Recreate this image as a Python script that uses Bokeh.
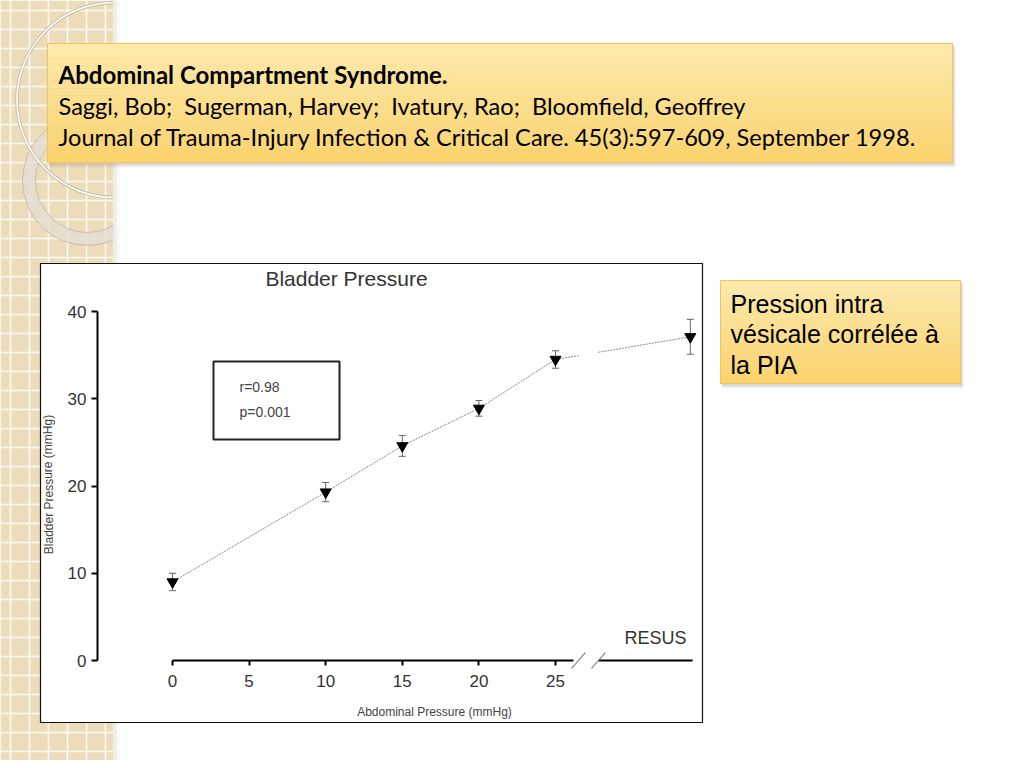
from bokeh.plotting import figure
from bokeh.models import Range1d, LinearAxis, FixedTicker, Label
from bokeh.embed import file_html
from bokeh.resources import INLINE

# ---------------- data ----------------
abd_pressure = [0, 10, 15, 20, 25]            # mmHg (x)
bladder_pressure = [9.0, 19.3, 24.6, 28.9, 34.5]  # mmHg (y)
bladder_err = [1.0, 1.1, 1.2, 0.9, 1.0]
resus_x = [33.8]
resus_bladder = [37.1]
resus_err = [2.0]
x_ticks = [0, 5, 10, 15, 20, 25]
y_ticks = [0, 10, 20, 30, 40]
stats_lines = ["r=0.98", "p=0.001"]
callout_lines = ["Pression intra", "vésicale corrélée à", "la PIA"]
ref_lines = ["Abdominal Compartment Syndrome.",
             "Saggi, Bob;\u00a0 Sugerman, Harvey;\u00a0 Ivatury, Rao;\u00a0 Bloomfield, Geoffrey",
             "Journal of Trauma-Injury Infection & Critical Care. 45(3):597-609, September 1998."]

# ---------------- page geometry (page pixels) ----------------
W, H = 1016, 760
PX0, PXS = 172.0, 15.32   # page x of abd=0, px per mmHg
PY0, PYS = 660.0, 8.725   # page y of bladder=0, px per mmHg
BREAK_LO, BREAK_HI, X_END = 26.5, 27.8, 33.95

p = figure(width=W, height=H, x_range=Range1d(0, W), y_range=Range1d(H, 0),
           x_axis_type=None, y_axis_type=None, toolbar_location=None,
           output_backend="svg", min_border=0)
p.outline_line_color = None
p.background_fill_color = "white"
p.border_fill_color = "white"

p.extra_x_ranges["abd"] = Range1d((0 - PX0) / PXS, (W - PX0) / PXS)
p.extra_y_ranges["bp"] = Range1d((PY0 - H) / PYS, PY0 / PYS)

# ---------------- slide decoration ----------------
p.quad(left=[0], right=[113], top=[0], bottom=[780], fill_color="#eddcb9", line_color=None,
       hatch_pattern="+", hatch_color="white", hatch_scale=19, hatch_weight=1.6, hatch_alpha=0.85)
# circles of the background strip
p.annulus(x=[87], y=[180], inner_radius=52, outer_radius=65, fill_color="#e4ddd2",
          fill_alpha=0.85, line_color="#c9bfae", line_width=1)
p.circle(x=[114], y=[99.5], radius=97.5, fill_color=None, line_color="#c8bca6", line_width=3.5)
p.circle(x=[114], y=[99.5], radius=97.5, fill_color=None, line_color="white", line_width=1.6)
# white page right of the strip, with shadow
p.quad(left=[113], right=[1030], top=[0], bottom=[780], fill_color="white", line_color=None)
p.quad(left=[113], right=[116], top=[0], bottom=[780], fill_color="#999999", fill_alpha=0.18, line_color=None)
p.quad(left=[116], right=[119], top=[0], bottom=[780], fill_color="#999999", fill_alpha=0.07, line_color=None)


def yellow_box(l, r, t, b):
    p.quad(left=[l + 2], right=[r + 3], top=[t + 3], bottom=[b + 5], fill_color="#888888",
           fill_alpha=0.12, line_color=None)
    p.quad(left=[l + 1], right=[r + 2], top=[t + 2], bottom=[b + 3], fill_color="#777777",
           fill_alpha=0.2, line_color=None)
    n = 16
    c0 = (253, 234, 172)
    c1 = (252, 211, 108)
    for i in range(n):
        f = (i + 0.5) / n
        c = tuple(int(round(c0[k] + (c1[k] - c0[k]) * f)) for k in range(3))
        p.quad(left=[l], right=[r], top=[t + (b - t) * i / n], bottom=[t + (b - t) * (i + 1) / n],
               fill_color="#%02x%02x%02x" % c, line_color=None)
    p.quad(left=[l], right=[r], top=[t], bottom=[b], fill_color=None, line_color="#f0c456", line_width=1)


yellow_box(47, 952, 43, 162)
yellow_box(720, 960, 280, 383)

for i, txt in enumerate(ref_lines):
    p.add_layout(Label(x=58, y=74 + i * 31, text=txt, text_font="Lato",
                       text_font_size="24px" if i == 0 else "23.6px",
                       text_font_style="bold" if i == 0 else "normal", text_color="black",
                       text_baseline="alphabetic", text_align="left"))
for i, txt in enumerate(callout_lines):
    p.add_layout(Label(x=730, y=303 + i * 30.5, text=txt, text_font="Liberation Sans",
                       text_font_size="25px", text_color="black",
                       text_baseline="alphabetic", text_align="left"))

# ---------------- chart image frame ----------------
p.quad(left=[40], right=[702], top=[263], bottom=[722], fill_color="white",
       line_color="#111111", line_width=1.2)
p.quad(left=[213], right=[339], top=[361], bottom=[439], fill_color=None,
       line_color="#222222", line_width=2)
for i, txt in enumerate(stats_lines):
    p.add_layout(Label(x=239, y=386 + i * 25, text=txt, text_font="Liberation Sans",
                       text_font_size="14px", text_color="#444444",
                       text_baseline="middle", text_align="left"))

# ---------------- data line (with axis break) ----------------
slope = (resus_bladder[0] - bladder_pressure[-1]) / (resus_x[0] - abd_pressure[-1])
y_lo = bladder_pressure[-1] + slope * (BREAK_LO - abd_pressure[-1])
y_hi = bladder_pressure[-1] + slope * (BREAK_HI - abd_pressure[-1])
p.line(x=abd_pressure + [BREAK_LO], y=bladder_pressure + [y_lo], x_range_name="abd",
       y_range_name="bp", line_color="#8a8a8a", line_width=1, line_dash="2 1")
p.line(x=[BREAK_HI] + resus_x, y=[y_hi] + resus_bladder, x_range_name="abd",
       y_range_name="bp", line_color="#8a8a8a", line_width=1, line_dash="2 1")

all_x = abd_pressure + resus_x
all_y = bladder_pressure + resus_bladder
all_e = bladder_err + resus_err
lo = [y - e for y, e in zip(all_y, all_e)]
hi = [y + e for y, e in zip(all_y, all_e)]
p.segment(x0=all_x, y0=lo, x1=all_x, y1=hi, x_range_name="abd", y_range_name="bp",
          line_color="#666666", line_width=1)
p.scatter(x=all_x + all_x, y=lo + hi, marker="dash", size=7, line_color="#666666",
          line_width=1, x_range_name="abd", y_range_name="bp")
p.scatter(x=all_x, y=all_y, marker="inverted_triangle", size=11, fill_color="black",
          line_color="black", x_range_name="abd", y_range_name="bp")

# x axis continuation after the break, and break marks
p.segment(x0=[BREAK_HI], y0=[0], x1=[X_END], y1=[0], x_range_name="abd", y_range_name="bp",
          line_color="black", line_width=2)
p.segment(x0=[BREAK_LO - 0.45, BREAK_HI - 0.45], y0=[-0.9, -0.9],
          x1=[BREAK_LO + 0.45, BREAK_HI + 0.45], y1=[0.9, 0.9],
          x_range_name="abd", y_range_name="bp", line_color="#888888", line_width=1.2)

# ---------------- axes ----------------
yax = LinearAxis(y_range_name="bp", ticker=FixedTicker(ticks=y_ticks), bounds=(0, 40))
yax.fixed_location = 97
xax = LinearAxis(x_range_name="abd", ticker=FixedTicker(ticks=x_ticks), bounds=(0, BREAK_LO - 0.3))
xax.fixed_location = PY0
for ax in (xax, yax):
    ax.axis_line_width = 2
    ax.axis_line_color = "black"
    ax.major_tick_line_width = 2
    ax.major_tick_line_color = "black"
    ax.major_tick_in = 0
    ax.minor_tick_line_color = None
    ax.major_label_text_font = "Liberation Sans"
    ax.major_label_text_font_size = "17px"
    ax.major_label_text_color = "#333333"
yax.major_tick_out = 6
yax.major_label_standoff = 5
xax.major_tick_out = 5
xax.major_label_standoff = 9
p.add_layout(yax, "left")
p.add_layout(xax, "below")

# ---------------- chart texts ----------------
p.add_layout(Label(x=346, y=278, text="Bladder Pressure", text_font="Liberation Sans",
                   text_font_size="21px", text_color="#333333", text_align="center",
                   text_baseline="middle"))
p.add_layout(Label(x=655, y=637, text="RESUS", text_font="Liberation Sans",
                   text_font_size="18px", text_color="#333333", text_align="center",
                   text_baseline="middle"))
p.add_layout(Label(x=434, y=711, text="Abdominal Pressure (mmHg)", text_font="Liberation Sans",
                   text_font_size="12px", text_color="#444444", text_align="center",
                   text_baseline="middle"))
p.add_layout(Label(x=48, y=484, text="Bladder Pressure (mmHg)", text_font="Liberation Sans",
                   text_font_size="12px", text_color="#444444", text_align="center",
                   text_baseline="middle", angle=1.5708))

open("out.html", "w").write(file_html(p, INLINE))
